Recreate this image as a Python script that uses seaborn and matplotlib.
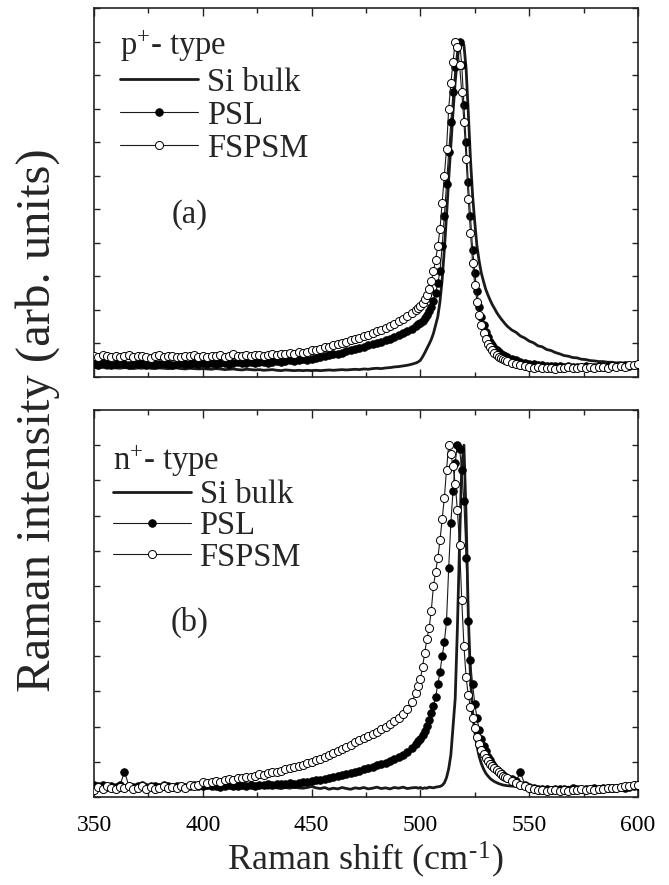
import numpy as np
import pandas as pd
import matplotlib
matplotlib.use("Agg")
import matplotlib.pyplot as plt
import seaborn as sns
from matplotlib.ticker import MultipleLocator, NullFormatter

# ---------------- data ----------------
# sampling grid of the spectra (cm^-1)
x_seg1 = np.arange(350, 499, 2)   # 350..498
x_seg2 = np.arange(499, 541, 1)   # 499..540
x_seg3 = np.arange(542, 601, 2)   # 542..600
raman_shift = np.concatenate([x_seg1, x_seg2, x_seg3])

# ---- panel (a): p+ type ----
si_bulk_a = [
    0.028, 0.027, 0.029, 0.026, 0.028, 0.027, 0.026, 0.028, 0.027, 0.025,
    0.027, 0.026, 0.028, 0.026, 0.025, 0.027, 0.026, 0.025, 0.026, 0.027,
    0.025, 0.024, 0.026, 0.025, 0.024,
    0.025, 0.024, 0.023, 0.025, 0.024, 0.022, 0.023, 0.024, 0.022, 0.021,
    0.023, 0.022, 0.021, 0.022, 0.020, 0.021, 0.022, 0.020, 0.019, 0.021,
    0.020, 0.019, 0.020, 0.019, 0.020,
    0.019, 0.020, 0.019, 0.020, 0.021, 0.020, 0.021, 0.022, 0.021, 0.022,
    0.023, 0.022, 0.024, 0.023, 0.025, 0.026, 0.025, 0.027, 0.028, 0.030,
    0.031, 0.033, 0.035, 0.038, 0.042,
    0.045, 0.050, 0.060, 0.072, 0.085, 0.098, 0.112, 0.130, 0.155, 0.180,
    0.225, 0.290, 0.380, 0.480, 0.590, 0.690, 0.790, 0.880, 0.950, 0.990,
    1.000, 0.990, 0.920, 0.790, 0.650, 0.540, 0.460, 0.390, 0.345, 0.310,
    0.285, 0.262, 0.245, 0.230, 0.216, 0.205, 0.193, 0.183, 0.174, 0.166,
    0.158, 0.151,
    0.140, 0.133, 0.122, 0.116, 0.107, 0.102, 0.093, 0.090, 0.082, 0.079,
    0.073, 0.069, 0.064, 0.062, 0.058, 0.057, 0.053, 0.052, 0.049, 0.048,
    0.046, 0.046, 0.044, 0.044, 0.042, 0.043, 0.041, 0.042, 0.040, 0.041,
]
psl_a = [
    0.040, 0.037, 0.041, 0.039, 0.036, 0.040, 0.042, 0.038, 0.037, 0.040,
    0.039, 0.041, 0.037, 0.039, 0.040, 0.038, 0.041, 0.039, 0.037, 0.040,
    0.042, 0.039, 0.038, 0.041, 0.040,
    0.041, 0.039, 0.042, 0.040, 0.043, 0.041, 0.039, 0.042, 0.044, 0.041,
    0.043, 0.045, 0.042, 0.044, 0.046, 0.043, 0.045, 0.047, 0.046, 0.048,
    0.050, 0.049, 0.051, 0.053, 0.052,
    0.055, 0.057, 0.060, 0.062, 0.065, 0.068, 0.070, 0.073, 0.077, 0.080,
    0.083, 0.086, 0.090, 0.094, 0.097, 0.101, 0.105, 0.109, 0.114, 0.119,
    0.125, 0.131, 0.137, 0.144, 0.152,
    0.157, 0.162, 0.168, 0.176, 0.185, 0.196, 0.210, 0.228, 0.250, 0.280,
    0.315, 0.390, 0.480, 0.575, 0.670, 0.760, 0.850, 0.925, 0.985, 1.000,
    0.930, 0.810, 0.700, 0.580, 0.480, 0.380, 0.310, 0.255, 0.210, 0.180,
    0.155, 0.135, 0.118, 0.105, 0.095, 0.087, 0.080, 0.074, 0.069, 0.065,
    0.062, 0.059,
    0.054, 0.050, 0.046, 0.043, 0.040, 0.038, 0.036, 0.035, 0.034, 0.033,
    0.032, 0.033, 0.031, 0.032, 0.030, 0.031, 0.030, 0.032, 0.031, 0.030,
    0.032, 0.031, 0.033, 0.032, 0.034, 0.033, 0.035, 0.034, 0.036, 0.037,
]
fspsm_a = [
    0.063, 0.060, 0.065, 0.062, 0.059, 0.064, 0.061, 0.063, 0.066, 0.060,
    0.062, 0.064, 0.061, 0.058, 0.063, 0.065, 0.060, 0.062, 0.064, 0.061,
    0.059, 0.063, 0.062, 0.066, 0.061,
    0.063, 0.060, 0.064, 0.062, 0.065, 0.061, 0.063, 0.068, 0.062, 0.064,
    0.066, 0.063, 0.065, 0.067, 0.064, 0.066, 0.069, 0.065, 0.068, 0.070,
    0.072, 0.070, 0.074, 0.073, 0.076,
    0.079, 0.081, 0.084, 0.088, 0.090, 0.094, 0.097, 0.101, 0.105, 0.109,
    0.113, 0.117, 0.122, 0.126, 0.131, 0.136, 0.141, 0.147, 0.153, 0.159,
    0.166, 0.173, 0.181, 0.190, 0.200,
    0.206, 0.213, 0.222, 0.232, 0.245, 0.262, 0.285, 0.315, 0.350, 0.390,
    0.440, 0.520, 0.600, 0.680, 0.800, 0.875, 0.940, 1.000, 0.985, 0.930,
    0.850, 0.760, 0.650, 0.530, 0.430, 0.340, 0.275, 0.225, 0.185, 0.155,
    0.130, 0.112, 0.098, 0.088, 0.079, 0.072, 0.066, 0.061, 0.057, 0.053,
    0.050, 0.047,
    0.042, 0.038, 0.035, 0.032, 0.030, 0.028, 0.029, 0.026, 0.028, 0.027,
    0.025, 0.028, 0.026, 0.029, 0.027, 0.026, 0.029, 0.027, 0.030, 0.026,
    0.029, 0.031, 0.028, 0.032, 0.030, 0.033, 0.031, 0.035, 0.036, 0.038,
]

# ---- panel (b): n+ type ----
si_bulk_b = [
    0.027, 0.025, 0.028, 0.026, 0.024, 0.027, 0.026, 0.028, 0.025, 0.027,
    0.026, 0.024, 0.027, 0.025, 0.028, 0.026, 0.025, 0.027, 0.024, 0.026,
    0.028, 0.025, 0.027, 0.026, 0.025,
    0.027, 0.025, 0.026, 0.028, 0.024, 0.026, 0.027, 0.025, 0.028, 0.026,
    0.024, 0.027, 0.025, 0.026, 0.028, 0.025, 0.027, 0.026, 0.024, 0.027,
    0.025, 0.028, 0.026, 0.025, 0.027,
    0.030, 0.026, 0.024, 0.027, 0.022, 0.025, 0.023, 0.027, 0.024, 0.022,
    0.026, 0.024, 0.027, 0.023, 0.025, 0.028, 0.024, 0.026, 0.023, 0.027,
    0.025, 0.028, 0.024, 0.026, 0.027,
    0.025, 0.027, 0.024, 0.026, 0.025, 0.028, 0.027, 0.026, 0.028, 0.029,
    0.030, 0.033, 0.040, 0.055, 0.080, 0.120, 0.200, 0.280, 0.480, 0.720,
    0.940, 1.000, 0.800, 0.520, 0.340, 0.240, 0.185, 0.145, 0.115, 0.095,
    0.080, 0.068, 0.060, 0.053, 0.048, 0.044, 0.041, 0.038, 0.036, 0.034,
    0.033, 0.032,
    0.031, 0.030, 0.028, 0.029, 0.027, 0.028, 0.026, 0.027, 0.025, 0.026,
    0.027, 0.025, 0.026, 0.028, 0.025, 0.027, 0.026, 0.028, 0.027, 0.029,
    0.027, 0.028, 0.030, 0.028, 0.029, 0.031, 0.029, 0.030, 0.032, 0.031,
]
psl_b = [
    0.034, 0.030, 0.033, 0.029, 0.031, 0.028, 0.034, 0.072, 0.032, 0.029,
    0.031, 0.033, 0.028, 0.030, 0.032, 0.029, 0.033, 0.031, 0.028, 0.030,
    0.032, 0.029, 0.031, 0.033, 0.030,
    0.031, 0.033, 0.030, 0.032, 0.029, 0.031, 0.034, 0.030, 0.032, 0.033,
    0.031, 0.034, 0.032, 0.035, 0.033, 0.036, 0.034, 0.037, 0.036, 0.038,
    0.040, 0.038, 0.041, 0.043, 0.042,
    0.045, 0.047, 0.049, 0.052, 0.054, 0.057, 0.060, 0.063, 0.066, 0.069,
    0.072, 0.075, 0.079, 0.082, 0.086, 0.090, 0.094, 0.098, 0.103, 0.108,
    0.113, 0.119, 0.128, 0.140, 0.150,
    0.158, 0.166, 0.175, 0.188, 0.203, 0.220, 0.240, 0.260, 0.285, 0.320,
    0.355, 0.400, 0.440, 0.500, 0.650, 0.780, 0.870, 0.950, 1.000, 0.990,
    0.930, 0.840, 0.680, 0.500, 0.390, 0.320, 0.265, 0.225, 0.190, 0.165,
    0.145, 0.130, 0.115, 0.104, 0.094, 0.085, 0.078, 0.072, 0.067, 0.062,
    0.058, 0.055,
    0.050, 0.046, 0.070, 0.035, 0.028, 0.025, 0.023, 0.022, 0.024, 0.021,
    0.023, 0.022, 0.024, 0.021, 0.025, 0.023, 0.022, 0.024, 0.023, 0.025,
    0.024, 0.026, 0.025, 0.027, 0.026, 0.028, 0.027, 0.029, 0.030, 0.031,
]
fspsm_b = [
    0.020, 0.028, 0.024, 0.030, 0.026, 0.022, 0.029, 0.025, 0.031, 0.023,
    0.027, 0.030, 0.024, 0.028, 0.022, 0.026, 0.030, 0.025, 0.029, 0.027,
    0.031, 0.026, 0.033, 0.030, 0.035,
    0.042, 0.040, 0.043, 0.045, 0.044, 0.048, 0.050, 0.049, 0.053, 0.055,
    0.058, 0.057, 0.061, 0.064, 0.063, 0.067, 0.070, 0.072, 0.075, 0.079,
    0.083, 0.085, 0.089, 0.092, 0.096,
    0.100, 0.105, 0.109, 0.114, 0.120, 0.126, 0.132, 0.137, 0.143, 0.149,
    0.155, 0.161, 0.167, 0.173, 0.180, 0.186, 0.193, 0.200, 0.208, 0.216,
    0.225, 0.235, 0.250, 0.270, 0.295,
    0.315, 0.335, 0.370, 0.410, 0.450, 0.480, 0.530, 0.600, 0.640, 0.680,
    0.730, 0.790, 0.850, 0.930, 1.000, 0.975, 0.940, 0.890, 0.815, 0.715,
    0.560, 0.430, 0.340, 0.290, 0.255, 0.225, 0.195, 0.170, 0.150, 0.135,
    0.122, 0.112, 0.103, 0.095, 0.088, 0.082, 0.076, 0.071, 0.066, 0.061,
    0.057, 0.053,
    0.046, 0.040, 0.035, 0.030, 0.026, 0.022, 0.020, 0.021, 0.018, 0.020,
    0.019, 0.017, 0.020, 0.018, 0.021, 0.019, 0.022, 0.020, 0.023, 0.021,
    0.024, 0.022, 0.025, 0.027, 0.026, 0.029, 0.031, 0.030, 0.033, 0.035,
]

series_labels = ["Si bulk", "PSL", "FSPSM"]
panel_titles = ["p$^{+}$- type", "n$^{+}$- type"]
panel_tags = ["(a)", "(b)"]
x_ticks = [350, 400, 450, 500, 550, 600]

# ---------------- style ----------------
sns.set_theme(style="ticks")
plt.rcParams["font.family"] = ["Liberation Serif", "DejaVu Serif"]
plt.rcParams["mathtext.fontset"] = "custom"
plt.rcParams["mathtext.rm"] = "Liberation Serif"
plt.rcParams["mathtext.it"] = "Liberation Serif:italic"
plt.rcParams["mathtext.bf"] = "Liberation Serif:bold"

fig = plt.figure(figsize=(6.69, 8.85), dpi=100)
W, H = 669, 885
left_px, right_px = 94, 638
ax_top = fig.add_axes([left_px / W, 1 - 377 / H, (right_px - left_px) / W, 369 / H])
ax_bot = fig.add_axes([left_px / W, 1 - 797 / H, (right_px - left_px) / W, 387 / H])

panels = [
    (ax_top, si_bulk_a, psl_a, fspsm_a),
    (ax_bot, si_bulk_b, psl_b, fspsm_b),
]
legend_anchor = [(0.048, 0.945), (0.035, 0.915)]
legend_spacing = [0.08, 0.02]
tag_pos = [(0.175, 0.44), (0.175, 0.452)]

for i, (ax, si, psl, fs) in enumerate(panels):
    df = pd.DataFrame({"x": raman_shift, "si": si, "psl": psl, "fs": fs})
    sns.lineplot(data=df, x="x", y="si", ax=ax, color="#1a1a1a", lw=2.0,
                 estimator=None, sort=False, label=series_labels[0], zorder=2)
    sns.lineplot(data=df, x="x", y="psl", ax=ax, color="#1a1a1a", lw=0.8,
                 marker="o", markersize=5.4, markerfacecolor="black",
                 markeredgecolor="black", markeredgewidth=0.7,
                 estimator=None, sort=False, label=series_labels[1], zorder=3)
    sns.lineplot(data=df, x="x", y="fs", ax=ax, color="#1a1a1a", lw=0.8,
                 marker="o", markersize=5.8, markerfacecolor="white",
                 markeredgecolor="black", markeredgewidth=0.7,
                 estimator=None, sort=False, label=series_labels[2], zorder=4)

    ax.set_xlim(350, 600)
    ax.set_ylim(0, 1.1)
    ax.set_xlabel("")
    ax.set_ylabel("")
    ax.xaxis.set_major_locator(MultipleLocator(50))
    ax.xaxis.set_minor_locator(MultipleLocator(25))
    ax.yaxis.set_major_locator(MultipleLocator(0.1))
    ax.yaxis.set_major_formatter(NullFormatter())
    ax.tick_params(axis="both", which="both", direction="in", top=True,
                   right=True, colors="#222222", width=1.0)
    ax.tick_params(axis="x", which="major", length=5.5)
    ax.tick_params(axis="x", which="minor", length=3.5)
    ax.tick_params(axis="y", which="major", length=4.5)
    ax.tick_params(axis="x", labelsize=17, pad=13, labelcolor="black")
    for sp in ax.spines.values():
        sp.set_linewidth(1.2)
        sp.set_color("#222222")
    if i == 0:
        ax.xaxis.set_major_formatter(NullFormatter())
    else:
        ax.set_xticks(x_ticks)
        ax.set_xticklabels([str(t) for t in x_ticks])

    ax.legend(loc="upper left", bbox_to_anchor=legend_anchor[i],
              frameon=False, fontsize=23.5, title=panel_titles[i],
              title_fontsize=23.5, handlelength=2.4, handletextpad=0.25,
              labelspacing=legend_spacing[i], borderpad=0, borderaxespad=0,
              alignment="left", markerscale=1.0)
    ax.text(tag_pos[i][0], tag_pos[i][1], panel_tags[i],
            transform=ax.transAxes, fontsize=23.5, ha="center", va="center")

fig.text(0.056, 0.525, "Raman intensity (arb. units)", rotation=90,
         fontsize=35, ha="center", va="center")
fig.text(0.546, 0.029, "Raman shift (cm$^{\u2010}$$^{1}$)", fontsize=26,
         ha="center", va="center")

fig.savefig("out.png", dpi=100)
